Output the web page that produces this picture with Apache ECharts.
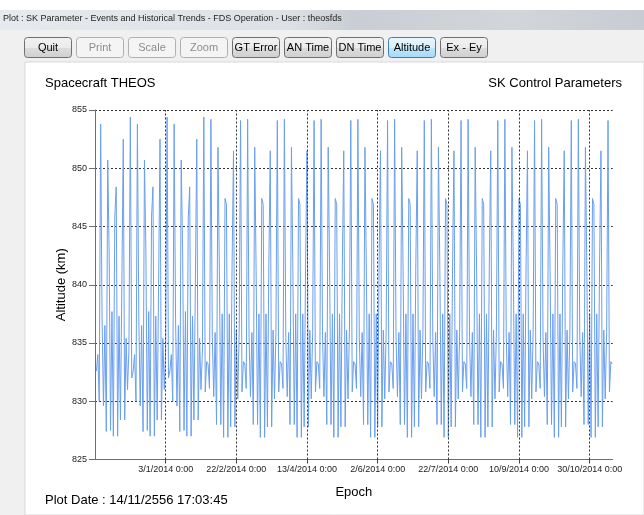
<!DOCTYPE html>
<html><head><meta charset="utf-8">
<script src="https://cdn.jsdelivr.net/npm/echarts@6/dist/echarts.min.js"></script>
<style>html,body{margin:0;padding:0;background:#fff}#c{width:644px;height:515px}</style>
</head><body><div id="c"></div>
<script>
// ---- data (altitude in km, one sample per day from 15/11/2013) ----
const firstDay = 1;               // days after 14/11/2013 (axis origin)
const alt01 = [832.6,834.0,830.0,853.8,837.1,829.6,836.5,827.4,850.7,842.9,827.5,837.7,827.0,845.8,848.4,827.0,837.3,828.4,840.0,852.5,828.4,835.4,831.0,834.4,854.4];
const alt02 = [832.0,832.6,834.0,830.0,853.8,837.1,829.6,836.5,827.4,850.7,842.9,827.5,837.7,827.0,845.8,848.4,827.0,837.3,828.4,840.0,852.5,828.4,835.4,831.0,834.4,854.4];
const alt03 = [832.0,832.6,834.0,830.0,853.8,837.1,829.6,836.5,827.4,850.7,842.9,827.5,837.7,827.0,845.8,848.4,827.0,837.3,828.4,840.0,852.5,828.4,835.4,831.0,834.4,854.4];
const alt04 = [830.8,833.4,833.2,831.1,854.2,835.5,830.4,835.9,828.0,851.8,841.2,828.0,837.5,826.9,847.4,846.9,826.9,837.5,827.8,841.7,851.5,827.8,836.1,830.2,835.9,854.1];
const alt05 = [830.8,833.4,833.2,831.1,854.2,835.5,830.4,835.9,828.0,851.8,841.2,828.0,837.5,826.9,847.4,846.9,826.9,837.5,827.8,841.7,851.5,827.8,836.1,830.2,835.9,854.1];
const alt06 = [830.8,833.4,833.2,831.1,854.2,835.5,830.4,835.9,828.0,851.8,841.2,828.0,837.5,826.9,847.4,846.9,826.9,837.5,827.8,841.7,851.5,827.8,836.1,830.2,835.9,854.1];
const alt07 = [830.8,833.4,833.2,831.1,854.2,835.5,830.4,835.9,828.0,851.8,841.2,828.0,837.5,826.9,847.4,846.9,826.9,837.5,827.8,841.7,851.5,827.8,836.1,830.2,835.9,854.1];
const alt08 = [830.8,833.4,833.2,831.1,854.2,835.5,830.4,835.9,828.0,851.8,841.2,828.0,837.5,826.9,847.4,846.9,826.9,837.5,827.8,841.7,851.5,827.8,836.1,830.2,835.9,854.1];
const alt09 = [830.8,833.4,833.2,831.1,854.2,835.5,830.4,835.9,828.0,851.8,841.2,828.0,837.5,826.9,847.4,846.9,826.9,837.5,827.8,841.7,851.5,827.8,836.1,830.2,835.9,854.1];
const alt10 = [830.8,833.4,833.2,831.1,854.2,835.5,830.4,835.9,828.0,851.8,841.2,828.0,837.5,826.9,847.4,846.9,826.9,837.5,827.8,841.7,851.5,827.8,836.1,830.2,835.9,854.1];
const alt11 = [830.8,833.4,833.2,831.1,854.2,835.5,830.4,835.9,828.0,851.8,841.2,828.0,837.5,826.9,847.4,846.9,826.9,837.5,827.8,841.7,851.5,827.8,836.1,830.2,835.9,854.1];
const alt12 = [830.8,833.4,833.2,831.1,854.2,835.5,830.4,835.9,828.0,851.8,841.2,828.0,837.5,826.9,847.4,846.9,826.9,837.5,827.8,841.7,851.5,827.8,836.1,830.2,835.9,854.1];
const alt13 = [830.8,833.4,833.2,831.1,854.2,835.5,830.4,835.9,828.0,851.8,841.2,828.0,837.5,826.9,847.4,846.9,826.9,837.5,827.8,841.7,851.5,827.8,836.1,830.2,835.9,854.1];
const alt14 = [830.8,833.4,833.2,831.1,854.2,835.5,830.4,835.9,828.0,851.8,841.2,828.0,837.5,826.9,847.4,846.9,826.9,837.5,827.8,841.7,851.5,827.8,836.1,830.2,835.9,854.1];
const alt15 = [830.8,833.4,833.2];

const yTicks = [825, 830, 835, 840, 845, 850, 855];
const xTickDays = [50, 100, 150, 200, 250, 300, 350];   // days after 14/11/2013
const xTickLabels = ['3/1/2014 0:00','22/2/2014 0:00','13/4/2014 0:00','2/6/2014 0:00','22/7/2014 0:00','10/9/2014 0:00','30/10/2014 0:00'];
const buttons = ['Quit','Print','Scale','Zoom','GT Error','AN Time','DN Time','Altitude','Ex - Ey'];
const disabledButtons = ['Print','Scale','Zoom'];
const activeButton = 'Altitude';

// ---- build ----
const altitude = [].concat(alt01,alt02,alt03,alt04,alt05,alt06,alt07,alt08,alt09,alt10,alt11,alt12,alt13,alt14,alt15);
const seriesData = altitude.map((v, i) => [firstDay + i, v]);
const labelOf = {};
xTickDays.forEach((d, i) => labelOf[d] = xTickLabels[i]);

const FONT = 'Liberation Sans';
const graphics = [];
// window background
graphics.push({type:'rect', shape:{x:0,y:0,width:644,height:515}, style:{fill:'#eceef1'}, z:-10});
graphics.push({type:'rect', shape:{x:0,y:0,width:644,height:10}, style:{fill:'#ffffff'}, z:-9});
graphics.push({type:'rect', shape:{x:0,y:10,width:644,height:20},
  style:{fill:{type:'linear',x:0,y:0,x2:1,y2:0,colorStops:[{offset:0,color:'#e6e9ee'},{offset:0.45,color:'#dde1e6'},{offset:0.55,color:'#c9ced4'},{offset:0.8,color:'#d2d6db'},{offset:1,color:'#c7ccd2'}]}}, z:-9});
graphics.push({type:'text', x:3, y:19, style:{text:'Plot : SK Parameter - Events and Historical Trends - FDS Operation - User : theosfds', font:'9px '+FONT, fill:'#1e1e1e', verticalAlign:'middle'}});
graphics.push({type:'rect', shape:{x:0,y:30,width:644,height:485}, style:{fill:'#f0f0f0'}, z:-9});
graphics.push({type:'rect', shape:{x:25,y:62,width:619,height:453}, style:{fill:'#ffffff', stroke:'#d8d8d8', lineWidth:1}, z:-8});
// buttons
buttons.forEach((b, i) => {
  const x = 24 + i * 52, y = 37, w = 47, h = 20;
  const dis = disabledButtons.includes(b), act = b === activeButton;
  graphics.push({type:'rect', shape:{x:x+0.5,y:y+0.5,width:w,height:h,r:3},
    style:{fill:{type:'linear',x:0,y:0,x2:0,y2:1,colorStops: act ? [{offset:0,color:'#eaf6fd'},{offset:0.5,color:'#d9f0fc'},{offset:0.51,color:'#bee6fd'},{offset:1,color:'#a7d9f5'}] : dis ? [{offset:0,color:'#f4f4f4'},{offset:1,color:'#f4f4f4'}] : [{offset:0,color:'#f2f2f2'},{offset:0.5,color:'#ebebeb'},{offset:0.51,color:'#dddddd'},{offset:1,color:'#cfcfcf'}]},
      stroke: act ? '#3c7fb1' : dis ? '#adb2b5' : '#707070', lineWidth:1}, z:1});
  graphics.push({type:'text', x:x+w/2+0.5, y:y+h/2+1, style:{text:b, font:'11px '+FONT, fill: dis ? '#8d8d8d' : '#000', align:'center', verticalAlign:'middle'}, z:2});
});
// chart texts
graphics.push({type:'text', x:45, y:83, style:{text:'Spacecraft THEOS', font:'13px '+FONT, fill:'#000', verticalAlign:'middle'}, z:2});
graphics.push({type:'text', x:622, y:83, style:{text:'SK Control Parameters', font:'13px '+FONT, fill:'#000', align:'right', verticalAlign:'middle'}, z:2});
graphics.push({type:'text', x:45, y:500, style:{text:'Plot Date : 14/11/2556 17:03:45', font:'13px '+FONT, fill:'#000', verticalAlign:'middle'}, z:2});

const chart = echarts.init(document.getElementById('c'), null, {renderer:'canvas'});
chart.setOption({
  animation:false,
  backgroundColor:'transparent',
  graphic: graphics,
  grid:{left:95, right:31.3, top:110, bottom:55.5, containLabel:false},
  xAxis:{
    type:'value', min:0, max:366.3, interval:50,
    name:'Epoch', nameLocation:'middle', nameGap:26,
    nameTextStyle:{fontFamily:FONT, fontSize:13, color:'#000'},
    axisLine:{show:true, onZero:false, lineStyle:{color:'#6e6e6e', width:1}},
    axisTick:{show:true, length:4, inside:false, customValues:xTickDays, lineStyle:{color:'#444'}},
    axisLabel:{customValues:xTickDays, formatter:(v)=>labelOf[v]||'', fontFamily:FONT, fontSize:9, color:'#222', margin:6},
    splitLine:{show:false}
  },
  yAxis:{
    type:'value', min:825, max:855, interval:5,
    name:'Altitude (km)', nameLocation:'middle', nameGap:27, nameRotate:90, nameMoveOverlap:false,
    nameTextStyle:{fontFamily:FONT, fontSize:13, color:'#000'},
    axisLine:{show:true, lineStyle:{color:'#6e6e6e', width:1}},
    axisTick:{show:true, length:6, lineStyle:{color:'#6e6e6e'}},
    axisLabel:{fontFamily:FONT, fontSize:9, color:'#222', margin:8},
    splitLine:{show:true, lineStyle:{color:'#333', type:[2,2], width:1}}
  },
  series:[{
    type:'line', data:seriesData, showSymbol:false, symbol:'none',
    lineStyle:{color:'#6a9ff0', width:1}, z:3,
    markLine:{silent:true, symbol:'none', animation:false, label:{show:false},
      lineStyle:{color:'#333', type:[2,2], width:1},
      data: xTickDays.map(d => ({xAxis:d}))}
  }]
});
</script></body></html>
